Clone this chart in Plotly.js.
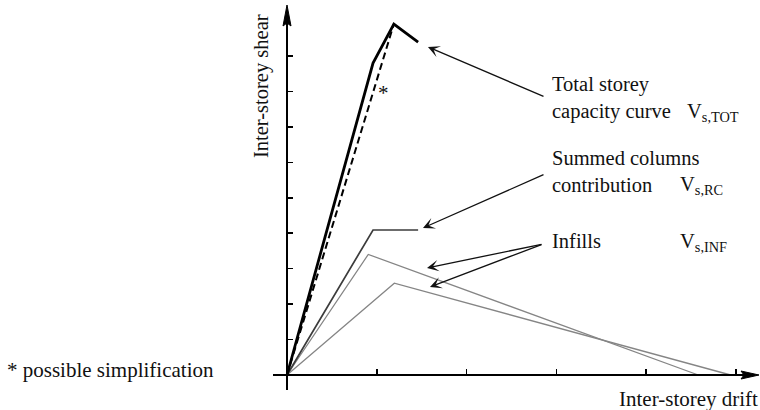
<!DOCTYPE html>
<html>
<head>
<meta charset="utf-8">
<script src="https://cdn.plot.ly/plotly-3.0.1.min.js"></script>
<style>
html,body{margin:0;padding:0;background:#fff;}
#chart{width:760px;height:410px;}
</style>
</head>
<body>
<div id="chart"></div>
<script>
// ---- data (schematic units: drift ticks 1..5, shear ticks 1..9) ----
const totalDrift = [0, 0.958, 1.19, 1.46];
const totalShear = [0, 8.80, 9.90, 9.39];
const simplDrift = [0, 1.19];
const simplShear = [0, 9.90];
const colsDrift = [0, 0.958, 1.46];
const colsShear = [0, 4.09, 4.09];
const infillADrift = [0, 0.905, 4.58];
const infillAShear = [0, 3.40, 0];
const infillBDrift = [0, 1.195, 4.94];
const infillBShear = [0, 2.59, 0];
const driftTicks = [1, 2, 3, 4, 5];
const shearTicks = [1, 2, 3, 4, 5, 6, 7, 8, 9];

// ---- geometry ----
const W = 760, H = 410;
const X0 = 287, Y0 = 375, SX = 89.8, SY = 35.45;
const AX_L = 273, AX_R = 752, AX_T = 12, AX_B = 390;
const fx = p => p / W;
const fy = p => 1 - p / H;
const FONT = "'Liberation Serif','Times New Roman',serif";

const traces = [
  {x: infillBDrift, y: infillBShear, mode: 'lines', line: {color: '#858585', width: 1.3}, hoverinfo: 'skip'},
  {x: infillADrift, y: infillAShear, mode: 'lines', line: {color: '#858585', width: 1.3}, hoverinfo: 'skip'},
  {x: colsDrift, y: colsShear, mode: 'lines', line: {color: '#3c3c3c', width: 1.7}, hoverinfo: 'skip'},
  {x: simplDrift, y: simplShear, mode: 'lines', line: {color: '#000', width: 2, dash: '7px,4px'}, hoverinfo: 'skip'},
  {x: totalDrift, y: totalShear, mode: 'lines', line: {color: '#000', width: 2.8}, hoverinfo: 'skip'}
];

function txt(text, x, y, xanchor, size, extra) {
  return Object.assign({
    text: text, xref: 'paper', yref: 'paper', x: fx(x), y: fy(y),
    xanchor: xanchor, yanchor: 'middle', showarrow: false, align: 'left',
    font: {family: FONT, size: size, color: '#111'}
  }, extra || {});
}
function arrow(tx, ty, sx, sy) {
  return {
    text: '', x: tx, y: ty, ax: sx, ay: sy, xref: 'x', yref: 'y', axref: 'x', ayref: 'y',
    showarrow: true, arrowhead: 3, arrowsize: 1.5, arrowwidth: 1.3, arrowcolor: '#111', standoff: 0
  };
}
const toX = p => (p - X0) / SX;
const toY = p => (Y0 - p) / SY;

const annotations = [
  txt('Total storey<br>capacity curve', 550, 98, 'left', 20.5),
  txt('Summed columns<br>contribution', 550, 172, 'left', 20.5),
  txt('Infills', 550, 241, 'left', 20.5),
  txt('V<sub>s,TOT</sub>', 685, 112, 'left', 20.5),
  txt('V<sub>s,RC</sub>', 678, 186, 'left', 20.5),
  txt('V<sub>s,INF</sub>', 678, 242, 'left', 20.5),
  txt('* possible simplification', 5, 370, 'left', 21),
  txt('Inter-storey drift', 760, 399, 'right', 21),
  txt('Inter-storey shear', 262, 86, 'center', 20.5, {textangle: -90}),
  {text: '*', x: toX(383), y: toY(93), xref: 'x', yref: 'y', showarrow: false,
   font: {family: FONT, size: 21, color: '#111'}},
  arrow(toX(428), toY(47), toX(545), toY(97)),
  arrow(toX(423), toY(228), toX(545), toY(174)),
  arrow(toX(427), toY(268), toX(543), toY(244)),
  arrow(toX(430), toY(287), toX(543), toY(244))
];

const shapes = [
  {type: 'path', xref: 'paper', yref: 'paper', layer: 'above',
   path: `M${fx(X0)},${fy(5)} L${fx(X0 - 4)},${fy(26)} L${fx(X0)},${fy(23)} L${fx(X0 + 4)},${fy(26)} Z`,
   fillcolor: '#000', line: {color: '#000', width: 1}},
  {type: 'path', xref: 'paper', yref: 'paper', layer: 'above',
   path: `M${fx(759)},${fy(Y0)} L${fx(741)},${fy(Y0 - 4)} L${fx(744)},${fy(Y0)} L${fx(741)},${fy(Y0 + 4)} Z`,
   fillcolor: '#000', line: {color: '#000', width: 1}}
];

const layout = {
  width: W, height: H, margin: {l: 0, r: 0, t: 0, b: 0},
  paper_bgcolor: '#fff', plot_bgcolor: 'rgba(0,0,0,0)', showlegend: false,
  xaxis: {
    domain: [fx(AX_L), fx(AX_R)], range: [toX(AX_L), toX(AX_R)],
    anchor: 'free', position: fy(Y0),
    showline: true, linecolor: '#000', linewidth: 2,
    ticks: 'inside', ticklen: 5, tickwidth: 1.5, tickcolor: '#000',
    tickvals: driftTicks, showticklabels: false, showgrid: false, zeroline: false, fixedrange: true
  },
  yaxis: {
    domain: [fy(AX_B), fy(AX_T)], range: [toY(AX_B), toY(AX_T)],
    anchor: 'free', position: fx(X0),
    showline: true, linecolor: '#000', linewidth: 2,
    ticks: 'inside', ticklen: 5, tickwidth: 1.5, tickcolor: '#000',
    tickvals: shearTicks, showticklabels: false, showgrid: false, zeroline: false, fixedrange: true
  },
  annotations: annotations,
  shapes: shapes
};

Plotly.newPlot('chart', traces, layout, {staticPlot: true, displayModeBar: false});
</script>
</body>
</html>
